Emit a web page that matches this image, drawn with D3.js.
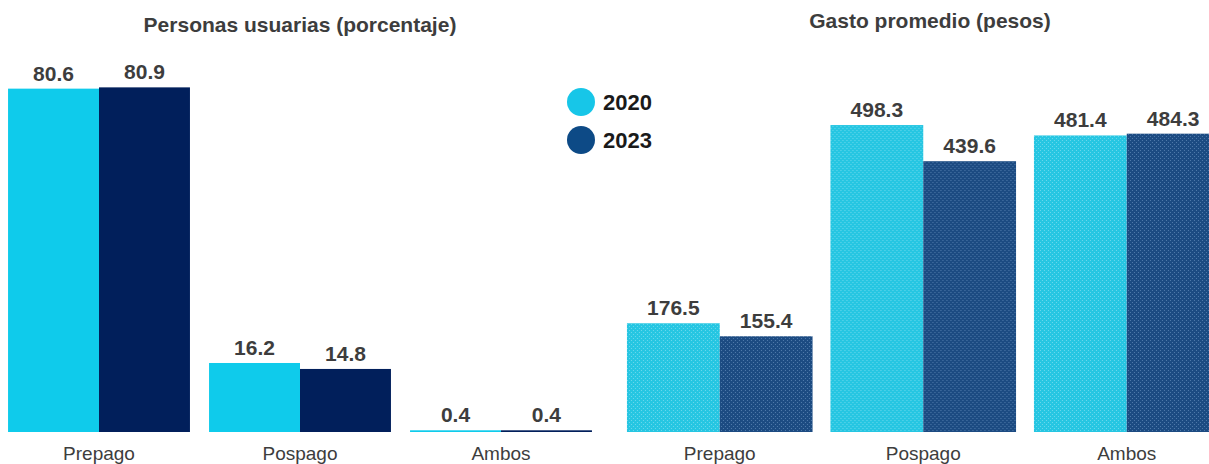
<!DOCTYPE html>
<html>
<head>
<meta charset="utf-8">
<script src="https://cdn.jsdelivr.net/npm/d3@7"></script>
<style>
  html, body { margin: 0; padding: 0; background: #ffffff; }
  svg { display: block; font-family: "Liberation Sans", Arial, sans-serif; }
</style>
</head>
<body>
<svg id="chart" width="1209" height="464"></svg>
<script>
const categories = ["Prepago", "Pospago", "Ambos"];
const years = ["2020", "2023"];
const usuarias2020 = [80.6, 16.2, 0.4];
const usuarias2023 = [80.9, 14.8, 0.4];
const gasto2020 = [176.5, 498.3, 481.4];
const gasto2023 = [155.4, 439.6, 484.3];
const titleLeft = "Personas usuarias (porcentaje)";
const titleRight = "Gasto promedio (pesos)";

const svg = d3.select("#chart");
const defs = svg.append("defs");

function makePattern(id, base, dot) {
  const p = defs.append("pattern").attr("id", id)
    .attr("patternUnits", "userSpaceOnUse").attr("width", 4).attr("height", 4);
  p.append("rect").attr("width", 4).attr("height", 4).attr("fill", base);
  p.append("rect").attr("x", 0).attr("y", 0).attr("width", 1).attr("height", 1).attr("fill", dot);
  p.append("rect").attr("x", 2).attr("y", 2).attr("width", 1).attr("height", 1).attr("fill", dot);
}
makePattern("pat2020", "#26c6e2", "#6ad8ec");
makePattern("pat2023", "#1c4b82", "#4f7aab");

const baseY = 432;
const textCol = "#3d3d3d";

function drawPanel(opts) {
  const g = svg.append("g");
  const x0 = d3.scaleBand().domain(categories).range(opts.xRange)
    .paddingInner(opts.padInner).paddingOuter(opts.padOuter);
  const x1 = d3.scaleBand().domain(years).range([0, x0.bandwidth()]);
  const y = d3.scaleLinear().domain(opts.yDomain).range([baseY, opts.yTop]);
  const data = categories.map((c, i) => ({cat: c, vals: [
    {year: "2020", v: opts.s2020[i]}, {year: "2023", v: opts.s2023[i]}]}));
  const grp = g.selectAll("g.cat").data(data).enter().append("g")
    .attr("transform", d => `translate(${x0(d.cat)},0)`);
  grp.selectAll("rect").data(d => d.vals).enter().append("rect")
    .attr("x", d => x1(d.year)).attr("width", x1.bandwidth())
    .attr("y", d => y(d.v)).attr("height", d => baseY - y(d.v))
    .attr("fill", d => opts.fill[d.year]);
  grp.selectAll("text.val").data(d => d.vals).enter().append("text")
    .attr("class", "val")
    .attr("x", d => x1(d.year) + x1.bandwidth() / 2)
    .attr("y", d => y(d.v) - 8)
    .attr("text-anchor", "middle")
    .attr("font-size", 21).attr("font-weight", "bold").attr("fill", textCol)
    .text(d => d.v.toFixed(1));
  const axis = d3.axisBottom(x0).tickSize(0).tickPadding(0);
  const ax = g.append("g").attr("transform", `translate(0,${baseY})`).call(axis);
  ax.select(".domain").remove();
  ax.selectAll("text").attr("font-size", 19).attr("fill", textCol)
    .attr("font-family", "Liberation Sans, Arial, sans-serif")
    .attr("dy", 0).attr("y", 28);
  g.append("text").attr("x", opts.titleX).attr("y", opts.titleY)
    .attr("text-anchor", "middle").attr("font-size", 21).attr("font-weight", "bold")
    .attr("fill", textCol).text(opts.title);
}

drawPanel({
  xRange: [-1.5, 601.5], padInner: 0.095, padOuter: 0.0475,
  yDomain: [0, 100], yTop: 6,
  s2020: usuarias2020, s2023: usuarias2023,
  fill: {"2020": "#0fcbeb", "2023": "#011f5b"},
  title: titleLeft, titleX: 300, titleY: 32
});
drawPanel({
  xRange: [618, 1228.5], padInner: 0.088, padOuter: 0.044,
  yDomain: [0, 700], yTop: 0.8,
  s2020: gasto2020, s2023: gasto2023,
  fill: {"2020": "url(#pat2020)", "2023": "url(#pat2023)"},
  title: titleRight, titleX: 930, titleY: 28
});

const legendColors = {"2020": "#17c6e8", "2023": "#0d4a86"};
const leg = svg.append("g").selectAll("g").data(years).enter().append("g")
  .attr("transform", (d, i) => `translate(581,${102 + i * 38})`);
leg.append("circle").attr("r", 14).attr("fill", d => legendColors[d]);
leg.append("text").attr("x", 22).attr("y", 8).attr("font-size", 22)
  .attr("font-weight", "bold").attr("fill", "#1a1a1a").text(d => d);
</script>
</body>
</html>
